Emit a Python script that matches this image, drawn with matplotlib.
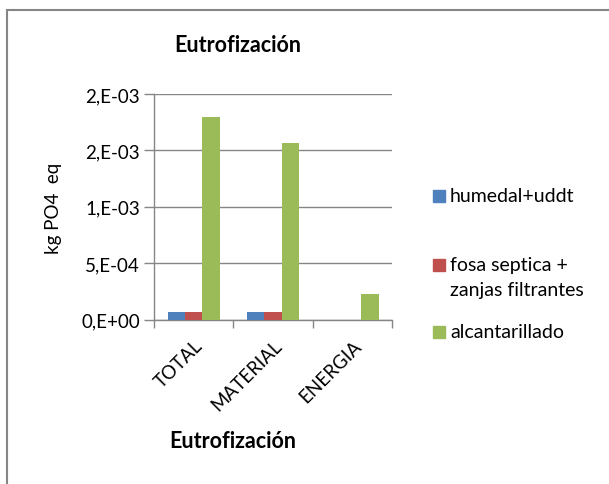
import matplotlib
matplotlib.use("Agg")
import matplotlib.pyplot as plt
from matplotlib.patches import Rectangle
import numpy as np

categories = ["TOTAL", "MATERIAL", "ENERGIA"]
series_names = ["humedal+uddt", "fosa septica +\nzanjas filtrantes", "alcantarillado"]
humedal = [0.000071, 0.000071, 0.0]
fosa = [0.000066, 0.000066, 0.0]
alcantarillado = [0.001794, 0.001564, 0.000230]
ytick_values = [0.0, 0.0005, 0.001, 0.0015, 0.002]
ytick_labels = ["0,E+00", "5,E-04", "1,E-03", "2,E-03", "2,E-03"]

colors = ["#4F81BD", "#C0504D", "#9BBB59"]
FONT = ["Lato", "DejaVu Sans"]
plt.rcParams['font.family'] = FONT
FS = 13.5

W, H = 609, 485
fig = plt.figure(figsize=(W / 100, H / 100), dpi=100)

def fx(px):
    return px / W

def fy(py):
    return 1 - py / H

# outer chart frame (top and left visible)
fig.patches.append(Rectangle((fx(7), fy(500)), fx(620) - fx(7), fy(10.5) - fy(500),
                             transform=fig.transFigure, fill=False,
                             edgecolor="#868686", linewidth=1.5, clip_on=False))

ax = fig.add_axes([fx(154), fy(320.7), fx(392.3) - fx(154), fy(95) - fy(320.7)])

x = np.arange(len(categories))
bw = 0.22
series = [humedal, fosa, alcantarillado]
for i, (vals, c) in enumerate(zip(series, colors)):
    ax.bar(x + (i - 1) * bw, vals, width=bw, color=c, edgecolor="none", zorder=3)

ax.set_xlim(-0.5, len(categories) - 0.5)
ax.set_ylim(0, 0.002)
ax.set_yticks(ytick_values)
ax.set_yticklabels(ytick_labels, fontsize=FS)
ax.yaxis.grid(True, color="#868686", linewidth=1.0, zorder=0)
ax.tick_params(axis="y", length=7, color="#868686", width=1.0, pad=3)

ax.set_xticks(np.arange(len(categories) + 1) - 0.5)
ax.set_xticklabels([])
ax.tick_params(axis="x", which="major", length=6, color="#868686", width=1.0)
ax.set_xticks(x, minor=True)
ax.set_xticklabels(categories, minor=True, rotation=45, ha="right",
                   rotation_mode="anchor", fontsize=FS)
ax.tick_params(axis="x", which="minor", length=0, pad=12)

for s in ["top", "right"]:
    ax.spines[s].set_visible(False)
for s in ["left", "bottom"]:
    ax.spines[s].set_color("#868686")
    ax.spines[s].set_linewidth(1.0)

fig.text(fx(53), fy(208), "kg PO4  eq", rotation=90, ha="center", va="center", fontsize=FS)

fig.text(fx(238), fy(45), "Eutrofización", ha="center", va="center",
         fontsize=15.5, fontweight="bold")
fig.text(fx(233), fy(442), "Eutrofización", ha="center", va="center",
         fontsize=15.5, fontweight="bold")

# legend
leg_y = [197, 266, 333]
for name, c, yy in zip(series_names, colors, leg_y):
    fig.patches.append(Rectangle((fx(433), fy(yy + 6)), fx(12), 12 / H,
                                 transform=fig.transFigure, color=c))
    lines = name.split("\n")
    for k, ln in enumerate(lines):
        fig.text(fx(450), fy(yy + 25 * k), ln, ha="left", va="center", fontsize=14)

fig.savefig("out.png", dpi=100)
